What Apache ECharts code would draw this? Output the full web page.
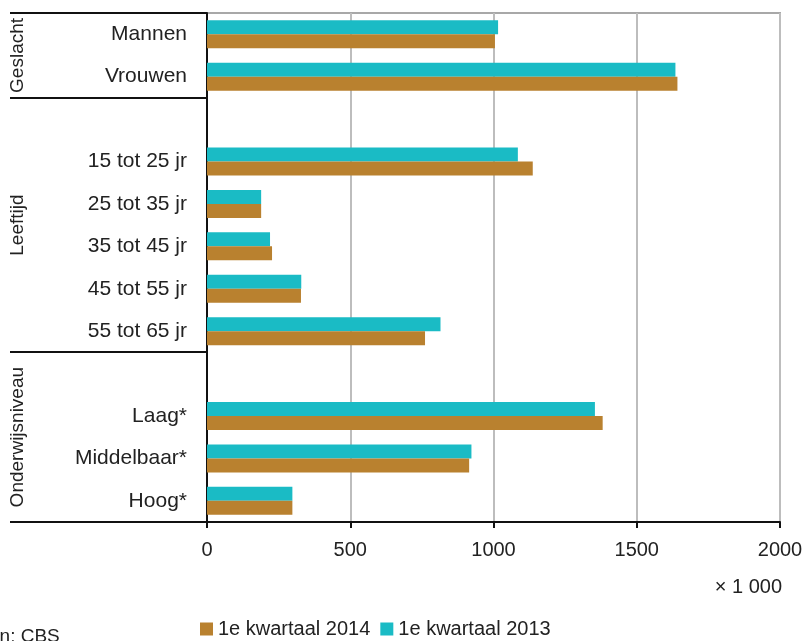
<!DOCTYPE html>
<html><head><meta charset="utf-8">
<script src="https://cdn.jsdelivr.net/npm/echarts@6/dist/echarts.min.js"></script>
<style>html,body{margin:0;padding:0;background:#fff}#c{width:806px;height:641px}</style>
</head><body><div id="c"></div>
<script>
const categories = ['Mannen','Vrouwen','','15 tot 25 jr','25 tot 35 jr','35 tot 45 jr','45 tot 55 jr','55 tot 65 jr','','Laag*','Middelbaar*','Hoog*'];
const kwartaal2014 = [1005, 1642, null, 1137, 189, 227, 328, 761, null, 1381, 915, 298];
const kwartaal2013 = [1016, 1635, null, 1085, 189, 220, 329, 815, null, 1354, 923, 298];
const xTicks = [0, 500, 1000, 1500, 2000];
const groups = [
  {name: 'Geslacht', from: 0, to: 2},
  {name: 'Leeftijd', from: 2, to: 8},
  {name: 'Onderwijsniveau', from: 8, to: 12}
];
const seriesNames = ['1e kwartaal 2014', '1e kwartaal 2013'];
const FONT = 'Liberation Sans, Arial, sans-serif';

const chart = echarts.init(document.getElementById('c'), null, {renderer: 'canvas'});
const option = {
  animation: false,
  backgroundColor: '#fff',
  grid: {left: 207, right: 26, top: 13, bottom: 119, containLabel: false,
    show: true, borderColor: '#a8a8a8', borderWidth: 2},
  legend: {
    data: seriesNames, left: 195, top: 614, itemWidth: 13, itemHeight: 13, itemGap: 10,
    icon: 'rect', textStyle: {fontFamily: FONT, fontSize: 20, color: '#222'}
  },
  xAxis: {
    type: 'value', min: xTicks[0], max: xTicks[xTicks.length-1], interval: 500,
    axisLine: {show: true, lineStyle: {color: '#111', width: 2}},
    axisTick: {show: true, length: 6, lineStyle: {color: '#111', width: 2}},
    axisLabel: {fontFamily: FONT, fontSize: 20, color: '#222', margin: 18,
      formatter: v => String(v)},
    splitLine: {show: true, lineStyle: {color: '#bdbdbd', width: 2}}
  },
  yAxis: {
    type: 'category', data: categories, inverse: true,
    axisLine: {show: true, lineStyle: {color: '#111', width: 2}},
    axisTick: {show: false},
    axisLabel: {fontFamily: FONT, fontSize: 21, color: '#222', margin: 20},
    splitLine: {show: false}
  },
  series: [
    {name: seriesNames[1], type: 'bar', data: kwartaal2013, barWidth: 14, barGap: '0%',
      itemStyle: {color: '#1ABBC5'}},
    {name: seriesNames[0], type: 'bar', data: kwartaal2014, barWidth: 14, barGap: '0%',
      itemStyle: {color: '#B9812F'}}
  ]
};
chart.setOption(option);

// separators and group labels positioned through the axis scale
const c0 = chart.convertToPixel({yAxisIndex: 0}, 0);
const c1 = chart.convertToPixel({yAxisIndex: 0}, 1);
const band = c1 - c0;
const boundary = i => c0 - band / 2 + i * band;
const leftX = 10, axisX = chart.convertToPixel({xAxisIndex: 0}, 0);
const g = [];
const bounds = new Set();
groups.forEach(gr => { bounds.add(gr.from); bounds.add(gr.to); });
bounds.forEach(b => {
  const y = Math.round(boundary(b));
  g.push({type: 'line', shape: {x1: leftX, y1: y, x2: axisX, y2: y},
    style: {stroke: '#111', lineWidth: 2}, z: 10});
});
groups.forEach(gr => {
  const mid = (boundary(gr.from) + boundary(gr.to)) / 2;
  g.push({type: 'text', x: 18, y: mid, rotation: Math.PI / 2,
    style: {text: gr.name, fontFamily: FONT, fontSize: 19, fill: '#222',
      align: 'center', verticalAlign: 'middle'}, z: 10});
});
g.push({type: 'text', x: 782, y: 587, style: {text: '× 1 000', fontFamily: FONT, fontSize: 20,
  fill: '#222', align: 'right', verticalAlign: 'middle'}});
g.push({type: 'text', x: -30, y: 627, style: {text: 'Bron: CBS', fontFamily: FONT, fontSize: 19,
  fill: '#222', align: 'left', verticalAlign: 'top'}});
chart.setOption({graphic: g});
</script></body></html>
